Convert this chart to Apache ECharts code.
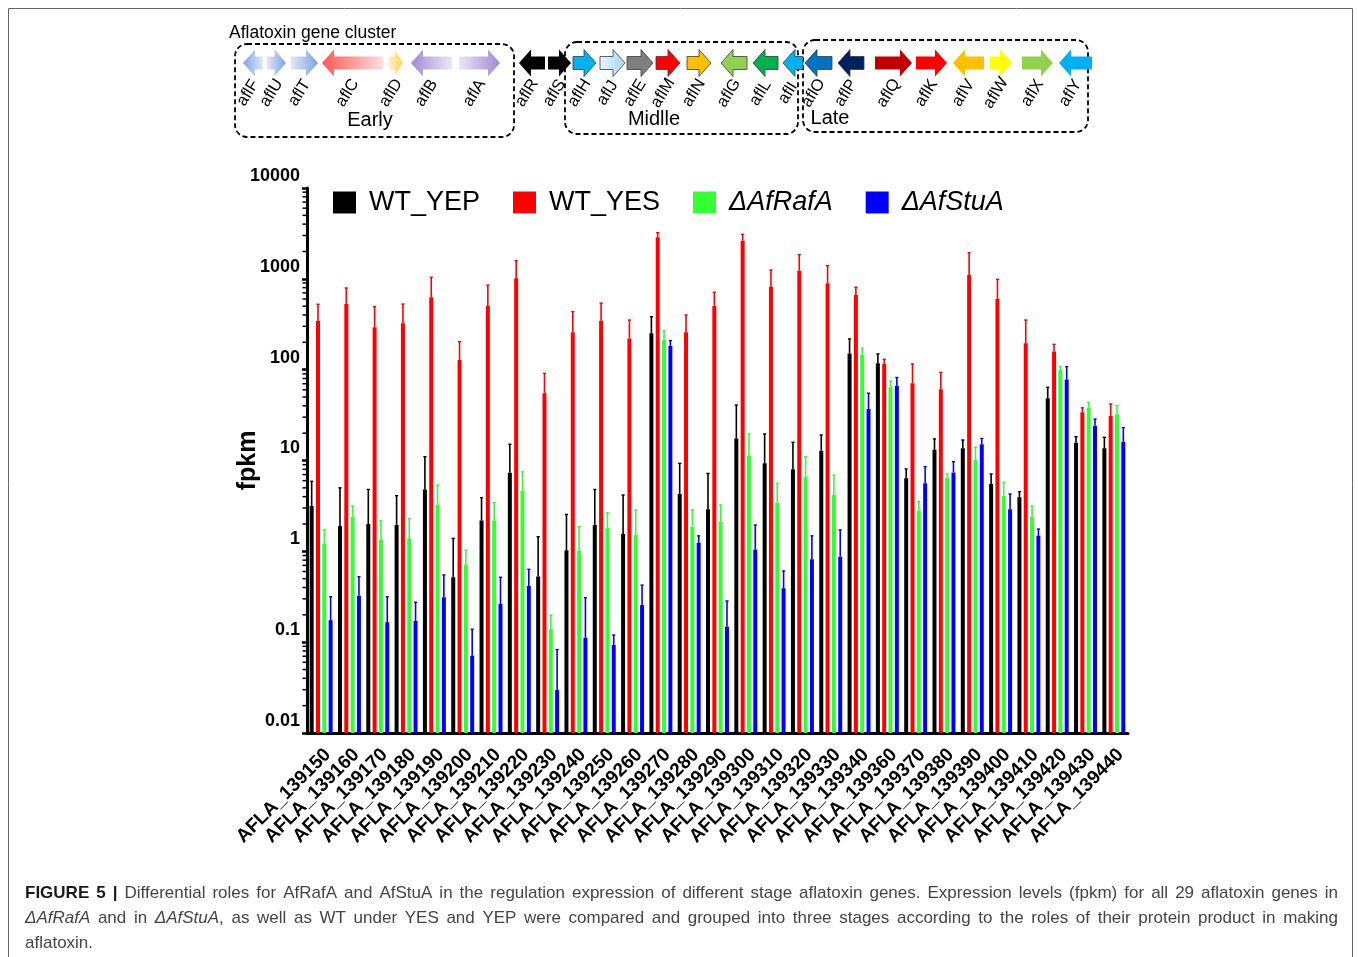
<!DOCTYPE html>
<html><head><meta charset="utf-8">
<script src="https://cdn.jsdelivr.net/npm/echarts@6/dist/echarts.min.js"></script>
<style>html,body{margin:0;padding:0;background:#fff}#c{width:1358px;height:957px}</style>
</head><body><div id="c"></div>
<script>
// ---------------- data ----------------
const categories = ['AFLA_139150','AFLA_139160','AFLA_139170','AFLA_139180','AFLA_139190','AFLA_139200','AFLA_139210','AFLA_139220','AFLA_139230','AFLA_139240','AFLA_139250','AFLA_139260','AFLA_139270','AFLA_139280','AFLA_139290','AFLA_139300','AFLA_139310','AFLA_139320','AFLA_139330','AFLA_139340','AFLA_139360','AFLA_139370','AFLA_139380','AFLA_139390','AFLA_139400','AFLA_139410','AFLA_139420','AFLA_139430','AFLA_139440'];
const seriesNames = ['WT_YEP','WT_YES','ΔAfRafA','ΔAfStuA'];
const wtYEP    = [3.15,1.9,2.0,1.95,4.8,0.52,2.18,7.35,0.53,1.03,1.95,1.55,251,4.28,2.9,17.5,9.3,8.0,12.8,151,117.6,6.37,13.1,13.6,5.5,3.94,48.4,15.7,13.6];
const wtYEPerr = [5.9,5.0,4.8,4.1,11.0,1.39,3.9,15.1,1.45,2.55,4.8,4.17,383,9.3,7.2,40.8,19.6,15.9,19.1,218,149,8.07,17.3,16.8,7.1,4.54,64,18.3,18];
const wtYES    = [344,528,293,324,627,128,503,1013,55,258,346,221,2866,258,503,2630,820,1230,893,664,115.6,70.8,60.8,1102,600,195,158,34,30.9];
const wtYESerr = [525,793,494,528,1040,203,853,1585,91,435,540,352,3220,400,711,3090,1250,1845,1397,807,130,115.6,93.5,1940,988,352,190,38,41.9];
const rafA     = [1.22,2.41,1.33,1.39,3.24,0.708,2.17,4.65,0.139,1.01,1.79,1.51,212,1.87,2.12,11.2,3.43,6.6,4.17,145,64,2.8,6.47,10.1,4.1,2.41,99,38,32.3];
const rafAerr  = [1.72,3.16,2.18,2.29,5.37,1.03,3.43,7.5,0.199,1.87,2.66,2.85,269,2.85,3.24,19.6,5.6,11.0,6.9,172,75,3.52,7.1,14.0,5.75,3.16,108,43.6,40.1];
const stuA     = [0.175,0.325,0.166,0.171,0.312,0.071,0.263,0.415,0.0297,0.112,0.093,0.256,182,1.24,0.148,1.05,0.392,0.82,0.873,36.9,66.7,5.6,7.4,15.1,2.9,1.48,78,24.2,16.1];
const stuAerr  = [0.317,0.526,0.317,0.275,0.55,0.139,0.518,0.634,0.083,0.309,0.12,0.425,209,1.48,0.284,1.95,0.608,1.48,1.72,55,82,8.55,9.7,17.5,4.28,1.76,108,28.6,23];
const yTickLabels = ['0.01','0.1','1','10','100','1000','10000'];
const yMinorTicks = [0.02,0.03,0.04,0.05,0.06,0.07,0.08,0.09,0.2,0.3,0.4,0.5,0.6,0.7,0.8,0.9,2,3,4,5,6,7,8,9,20,30,40,50,60,70,80,90,200,300,400,500,600,700,800,900,2000,3000,4000,5000,6000,7000,8000,9000];

// gene cluster diagram (positions along the cluster drawing)
const geneNames = ['aflF','aflU','aflT','aflC','aflD','aflB','aflA','aflR','aflS','aflH','aflJ','aflE','aflM','aflN','aflG','aflL','aflI','aflO','aflP','aflQ','aflK','aflV','aflW','aflX','aflY'];
const geneStart = [243,267,291,322,389,411,459,519,548,573,600,627,656,687,721,753,783,805,838,875,916,953,990,1022,1059];
const geneEnd   = [263,286,318,383,403,452,500,545,571,596,625,653,680,711,747,778,803,832,864,912,947,984,1012,1053,1092];
const geneDir   = [-1,1,1,-1,1,-1,1,-1,1,1,1,1,1,1,-1,-1,-1,-1,-1,1,1,-1,1,1,-1];
const geneHead  = ['#7ea3df','#7ea3df','#7ea3df','#ff5757','#ffd45c','#9d8bd2','#9d8bd2','#000000','#000000','#00b0f0','#a5d6f6','#7f7f7f','#ff0000','#ffc000','#92d050','#00b050','#00b0f0','#0070c0','#002060','#c00000','#ff0000','#ffc000','#ffff00','#92d050','#00b0f0'];
const geneTail  = ['#dfe8f7','#dfe8f7','#dfe8f7','#ffdede','#fff0c4','#ece7f6','#ece7f6','#000000','#000000','#00b0f0','#e8f5fd','#7f7f7f','#ff0000','#ffc000','#92d050','#00b050','#00b0f0','#0070c0','#002060','#c00000','#ff0000','#ffc000','#ffff00','#92d050','#00b0f0'];
const stageNames = ['Early','Midlle','Late'];

// ---------------- chart ----------------
const FONT = '"Liberation Sans", Arial, Helvetica, sans-serif';
const colors = ['#000000','#ff0000','#33ff33','#0000ff'];
const values = [wtYEP, wtYES, rafA, stuA];
const errs = [wtYEPerr, wtYESerr, rafAerr, stuAerr];
const BAR_W = 4, BAR_GAP = 0.58, STEP = BAR_W * (1 + BAR_GAP);

const chart = echarts.init(document.getElementById('c'), null, {renderer:'canvas'});

const series = [];
values.forEach((vals, i) => {
  series.push({
    type:'bar', name: seriesNames[i], data: vals, xAxisIndex:0, yAxisIndex:0,
    barWidth: BAR_W, barGap: (BAR_GAP*100)+'%',
    itemStyle:{color: colors[i]}, emphasis:{disabled:true}, z:2
  });
});
values.forEach((vals, i) => {
  series.push({
    type:'custom', name: seriesNames[i] + ' err', xAxisIndex:0, yAxisIndex:0, z:3, clip:false,
    encode:{x:0, y:1},
    data: vals.map((v,k) => [k, v, errs[i][k]]),
    renderItem: (params, api) => {
      const p0 = api.coord([api.value(0), api.value(1)]);
      const p1 = api.coord([api.value(0), api.value(2)]);
      const x = p0[0] + (i - 1.5) * STEP;
      return {type:'group', children:[
        {type:'line', shape:{x1:x, y1:p0[1], x2:x, y2:p1[1]}, style:{stroke:colors[i], lineWidth:1.6}},
        {type:'line', shape:{x1:x-1.6, y1:p1[1], x2:x+1.6, y2:p1[1]}, style:{stroke:colors[i], lineWidth:1.4}}
      ]};
    }
  });
});
// log-spaced minor ticks of the y axis
series.push({
  type:'custom', name:'minorTicks', xAxisIndex:0, yAxisIndex:0, clip:false, silent:true, z:5,
  encode:{x:0, y:1},
  data: yMinorTicks.map(v => [0, v]),
  renderItem: (params, api) => {
    const y = api.coord([0, api.value(1)])[1];
    const x = params.coordSys.x;
    return {type:'line', shape:{x1:x-4.5, y1:y, x2:x, y2:y}, style:{stroke:'#000', lineWidth:1.5}};
  }
});
// gene cluster arrows
series.push({
  type:'custom', name:'genes', xAxisIndex:1, yAxisIndex:1, clip:false, silent:true,
  encode:{x:[0,1], y:2},
  data: geneNames.map((g,k) => [geneStart[k], geneEnd[k], 0.5]),
  renderItem: (params, api) => {
    const k = params.dataIndex;
    const a = api.coord([api.value(0), api.value(2)]);
    const b = api.coord([api.value(1), api.value(2)]);
    const xs = a[0], xe = b[0], yc = a[1];
    const h1 = 6.5, h2 = 13.5;
    const hl = Math.min(12, (xe - xs) * 0.6);
    let pts;
    if (geneDir[k] > 0) {
      pts = [[xs,yc-h1],[xe-hl,yc-h1],[xe-hl,yc-h2],[xe,yc],[xe-hl,yc+h2],[xe-hl,yc+h1],[xs,yc+h1]];
    } else {
      pts = [[xe,yc-h1],[xs+hl,yc-h1],[xs+hl,yc-h2],[xs,yc],[xs+hl,yc+h2],[xs+hl,yc+h1],[xe,yc+h1]];
    }
    const stops = geneDir[k] > 0
      ? [{offset:0,color:geneTail[k]},{offset:1,color:geneHead[k]}]
      : [{offset:0,color:geneHead[k]},{offset:1,color:geneTail[k]}];
    const outlined = k >= 9 && k <= 18;
    const cx = (xs + xe) / 2;
    return {type:'group', children:[
      {type:'polygon', shape:{points:pts},
       style:{fill: new echarts.graphic.LinearGradient(0,0,1,0,stops),
              stroke: outlined ? '#3a3a3a' : null, lineWidth: outlined ? 0.8 : 0}},
      {type:'text', x: cx - 5, y: yc + 30, rotation: Math.PI * 58 / 180,
       style:{text: geneNames[k], font: '16.5px ' + FONT, fill:'#000', align:'center', verticalAlign:'middle'}}
    ]};
  }
});

// caption with justified lines
const measureCtx = document.createElement('canvas').getContext('2d');
const capFonts = {b:'bold 17px ' + FONT, n:'17px ' + FONT, i:'italic 17px ' + FONT};
const capFill = {b:'#1a1a1a', n:'#444', i:'#444'};
function words(str, s){ return str.split(' ').map(w => [[w, s]]); }
const capLine1 = words('FIGURE 5 |','b').concat(words('Differential roles for AfRafA and AfStuA in the regulation expression of different stage aflatoxin genes. Expression levels (fpkm) for all 29 aflatoxin genes in','n'));
const capLine2 = [[['ΔAfRafA','i']]].concat(words('and in','n'), [[['ΔAfStuA','i'],[',','n']]], words('as well as WT under YES and YEP were compared and grouped into three stages according to the roles of their protein product in making','n'));
const capLine3 = words('aflatoxin.','n');
function layoutCaption(line, x0, x1, y, justify){
  const out = [];
  const widths = line.map(w => w.reduce((s,seg) => { measureCtx.font = capFonts[seg[1]]; return s + measureCtx.measureText(seg[0]).width; }, 0));
  measureCtx.font = capFonts.n;
  const space = measureCtx.measureText(' ').width;
  const total = widths.reduce((a,b)=>a+b,0);
  const gap = justify ? (x1 - x0 - total) / (line.length - 1) : space;
  let x = x0;
  line.forEach((w, wi) => {
    let sx = x;
    w.forEach(seg => {
      measureCtx.font = capFonts[seg[1]];
      out.push({type:'text', x: sx, y: y, silent:true,
        style:{text: seg[0], font: capFonts[seg[1]], fill: capFill[seg[1]], verticalAlign:'middle'}});
      sx += measureCtx.measureText(seg[0]).width;
    });
    x += widths[wi] + gap;
  });
  return out;
}

const graphics = [
  {type:'rect', shape:{x:8.5, y:8.5, width:1344, height:980}, style:{fill:null, stroke:'#666', lineWidth:1}, silent:true},
  {type:'text', x:229, y:33, style:{text:'Aflatoxin gene cluster', font:'17.5px ' + FONT, fill:'#000', verticalAlign:'middle'}},
  {type:'rect', shape:{x:235, y:44, width:279, height:93, r:12}, style:{fill:null, stroke:'#000', lineWidth:1.8, lineDash:[5,3]}},
  {type:'rect', shape:{x:565, y:42, width:233, height:92, r:12}, style:{fill:null, stroke:'#000', lineWidth:1.8, lineDash:[5,3]}},
  {type:'rect', shape:{x:803, y:40, width:285, height:92, r:12}, style:{fill:null, stroke:'#000', lineWidth:1.8, lineDash:[5,3]}},
  {type:'text', x:370, y:120, style:{text:stageNames[0], font:'20px ' + FONT, fill:'#000', align:'center', verticalAlign:'middle'}},
  {type:'text', x:654, y:119, style:{text:stageNames[1], font:'20px ' + FONT, fill:'#000', align:'center', verticalAlign:'middle'}},
  {type:'text', x:830, y:118, style:{text:stageNames[2], font:'20px ' + FONT, fill:'#000', align:'center', verticalAlign:'middle'}}
].concat(layoutCaption(capLine1, 25, 1338, 893, true), layoutCaption(capLine2, 25, 1338, 918, true), layoutCaption(capLine3, 25, 1338, 943, false));

chart.setOption({
  animation:false,
  backgroundColor:'#fff',
  textStyle:{fontFamily: FONT},
  legend:{
    left:328, top:184, itemWidth:23, itemHeight:22, itemGap:33, icon:'rect',
    data: seriesNames.map((n,i) => ({name:n, textStyle: i >= 2 ? {fontStyle:'italic'} : {}})),
    textStyle:{fontSize:27, color:'#000', fontFamily: FONT, padding:[0,0,0,8]},
    selectedMode:false
  },
  grid:[
    {left:307, right:230, top:188, bottom:224, containLabel:false},
    {left:0, right:0, top:40, height:46, show:false}
  ],
  xAxis:[
    {type:'category', data:categories, gridIndex:0, boundaryGap:true,
     axisLine:{lineStyle:{color:'#000', width:3}},
     axisTick:{alignWithLabel:true, length:5, lineStyle:{color:'#000', width:2}},
     axisLabel:{rotate:45, interval:0, margin:12, verticalAlign:'top', fontSize:19, fontWeight:'bold', color:'#000', fontFamily: FONT},
     splitLine:{show:false}},
    {type:'value', gridIndex:1, min:0, max:1358, show:false}
  ],
  yAxis:[
    {type:'log', logBase:10, min:0.01, max:10000, startValue:0.01, gridIndex:0,
     name:'fpkm', nameLocation:'middle', nameGap:46, nameMoveOverlap:false,
     nameTextStyle:{fontSize:25, fontWeight:'bold', color:'#000', fontFamily: FONT},
     axisLine:{show:true, lineStyle:{color:'#000', width:3}},
     axisTick:{show:true, length:5, lineStyle:{color:'#000', width:2.5}},
     axisLabel:{fontSize:18, fontWeight:'bold', color:'#000', fontFamily: FONT, margin:7,
       verticalAlign:'bottom', padding:[0,0,3,0],
       formatter: v => yTickLabels[Math.round(Math.log10(v)) + 2]},
     splitLine:{show:false}},
    {type:'value', gridIndex:1, min:0, max:1, show:false}
  ],
  series: series,
  graphic: graphics
});
</script>
</body></html>
